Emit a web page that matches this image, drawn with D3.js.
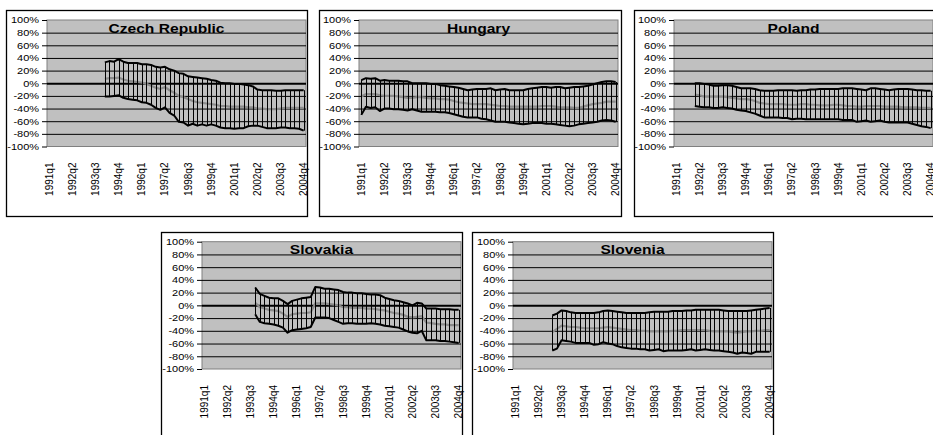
<!DOCTYPE html>
<html><head><meta charset="utf-8">
<script src="https://cdn.jsdelivr.net/npm/d3@7"></script>
<style>
html,body{margin:0;padding:0;background:#fff;overflow:hidden}
text{font-family:Arial,"Liberation Sans",sans-serif;fill:#000}
</style></head>
<body><svg id="c" width="933" height="435"></svg>
<script>
// ---- categories & tick labels ----
const quarters = ["1991q1","1991q2","1991q3","1991q4","1992q1","1992q2","1992q3","1992q4",
"1993q1","1993q2","1993q3","1993q4","1994q1","1994q2","1994q3","1994q4",
"1995q1","1995q2","1995q3","1995q4","1996q1","1996q2","1996q3","1996q4",
"1997q1","1997q2","1997q3","1997q4","1998q1","1998q2","1998q3","1998q4",
"1999q1","1999q2","1999q3","1999q4","2000q1","2000q2","2000q3","2000q4",
"2001q1","2001q2","2001q3","2001q4","2002q1","2002q2","2002q3","2002q4",
"2003q1","2003q2","2003q3","2003q4","2004q1","2004q2","2004q3","2004q4"];
const tickLabels = ["1991q1","1992q2","1993q3","1994q4","1996q1","1997q2","1998q3","1999q4","2001q1","2002q2","2003q3","2004q4"];
const yTicks = [-100,-80,-60,-40,-20,0,20,40,60,80,100];
const gridTicks = [-80,-60,-40,-20,0,20,40,60,80];

// ---- series values (%), null = no data ----
const czechUpper = [null,null,null,null,null,null,null,null,null,null,null,null,
 33,35,34,38,34,32,32,32,30,30,29,26,25,26,22,20,16,15,11,10,9,8,7,5,4,1,0,0,-1,-1,-2,-3,-5,-10,-11,-11,-11,-12,-12,-11,-11,-11,-11,-11];
const czechMid = [null,null,null,null,null,null,null,null,null,null,null,null,
 7,8,8,9,6,4,3,2,1,-1,-4,-7,-9,-6,-11,-15,-20,-22,-25,-28,-30,-31,-32,-33,-34,-36,-36,-37,-37,-37,-37,-38,-38,-40,-40,-41,-41,-41,-40,-39,-39,-39,-39,-39];
const czechLower = [null,null,null,null,null,null,null,null,null,null,null,null,
 -21,-21,-20,-19,-23,-25,-26,-27,-30,-31,-34,-39,-42,-38,-47,-51,-61,-62,-67,-64,-67,-65,-67,-65,-67,-70,-71,-71,-72,-71,-71,-68,-67,-67,-69,-71,-71,-71,-70,-70,-71,-71,-72,-75];

const hungaryUpper = [5,8,7,8,4,5,4,4,4,3,3,0,0,0,0,-1,-1,-3,-4,-5,-6,-7,-9,-11,-10,-9,-9,-9,-8,-11,-10,-9,-11,-11,-11,-11,-9,-8,-7,-6,-6,-7,-6,-6,-8,-7,-6,-6,-5,-4,-2,0,2,3,3,2];
const hungaryMid = [-21,-17,-17,-17,-19,-20,-20,-20,-21,-22,-23,-23,-22,-22,-23,-24,-24,-25,-25,-26,-28,-30,-31,-32,-33,-33,-33,-33,-34,-35,-36,-36,-37,-37,-37,-37,-37,-37,-37,-36,-36,-36,-37,-38,-38,-38,-39,-39,-37,-35,-33,-32,-31,-29,-29,-29];
const hungaryLower = [-50,-37,-39,-38,-44,-40,-40,-41,-41,-42,-43,-41,-43,-45,-45,-45,-45,-46,-46,-47,-49,-51,-53,-54,-54,-54,-56,-57,-59,-61,-61,-61,-62,-63,-64,-65,-64,-63,-63,-63,-64,-64,-65,-66,-67,-68,-67,-65,-64,-63,-62,-61,-59,-58,-59,-61];

const polandUpper = [null,null,null,null,
 0,0,-1,-2,-4,-4,-3,-3,-4,-6,-8,-8,-8,-9,-11,-12,-12,-12,-11,-11,-11,-11,-12,-11,-11,-10,-10,-9,-9,-9,-9,-9,-8,-8,-8,-9,-10,-11,-8,-8,-9,-10,-11,-10,-9,-9,-9,-10,-11,-11,-12,-12];
const polandMid = [null,null,null,null,
 -18,-19,-21,-21,-21,-21,-21,-22,-23,-24,-25,-25,-26,-28,-31,-32,-33,-33,-33,-33,-34,-34,-34,-33,-33,-34,-34,-35,-35,-35,-34,-34,-35,-36,-36,-37,-37,-36,-36,-36,-36,-37,-37,-37,-37,-38,-38,-38,-38,-39,-39,-39];
const polandLower = [null,null,null,null,
 -36,-37,-38,-38,-39,-39,-38,-39,-40,-42,-43,-44,-46,-48,-51,-54,-54,-54,-54,-55,-55,-57,-56,-56,-57,-57,-57,-57,-57,-57,-57,-57,-58,-58,-58,-61,-60,-59,-61,-60,-59,-61,-62,-62,-62,-62,-62,-64,-66,-68,-69,-71];

const slovakiaUpper = [null,null,null,null,null,null,null,null,null,null,null,
 28,18,15,12,11,11,7,2,7,9,11,12,13,29,28,26,26,25,24,21,20,20,19,19,18,17,17,16,12,10,8,7,5,3,0,4,3,-5,-5,-5,-6,-6,-6,-7,-7];
const slovakiaMid = [null,null,null,null,null,null,null,null,null,null,null,
 4,-3,-5,-7,-8,-9,-13,-18,-14,-13,-12,-12,-11,3,3,3,2,1,0,-3,-3,-4,-4,-4,-5,-5,-6,-7,-8,-10,-12,-13,-15,-18,-19,-18,-17,-27,-28,-29,-30,-30,-31,-31,-31];
const slovakiaLower = [null,null,null,null,null,null,null,null,null,null,null,
 -14,-26,-28,-29,-30,-32,-35,-43,-39,-38,-37,-36,-34,-19,-19,-19,-20,-23,-26,-29,-28,-28,-29,-29,-29,-28,-29,-30,-32,-33,-34,-35,-38,-41,-43,-44,-40,-55,-55,-55,-56,-56,-57,-58,-59];

const sloveniaUpper = [null,null,null,null,null,null,null,null,
 -16,-13,-8,-9,-11,-12,-12,-12,-12,-12,-11,-9,-8,-9,-10,-11,-12,-12,-12,-12,-12,-11,-10,-10,-10,-10,-9,-9,-9,-8,-8,-7,-7,-7,-7,-7,-7,-8,-9,-9,-9,-9,-9,-8,-7,-6,-5,-4];
const sloveniaMid = [null,null,null,null,null,null,null,null,
 -42,-37,-32,-33,-34,-34,-35,-36,-36,-36,-36,-35,-34,-35,-36,-37,-38,-39,-39,-40,-40,-41,-41,-41,-41,-41,-40,-40,-39,-39,-39,-39,-39,-39,-40,-41,-41,-41,-41,-42,-43,-42,-41,-41,-40,-40,-39,-39];
const sloveniaLower = [null,null,null,null,null,null,null,null,
 -71,-68,-55,-56,-57,-59,-59,-59,-59,-62,-61,-58,-60,-61,-64,-66,-67,-68,-68,-69,-69,-71,-70,-69,-72,-71,-71,-71,-71,-70,-69,-71,-70,-69,-70,-71,-71,-72,-73,-74,-76,-74,-75,-76,-73,-73,-73,-73];

const countries = ["Czech Republic","Hungary","Poland","Slovakia","Slovenia"];
const uppers = [czechUpper,hungaryUpper,polandUpper,slovakiaUpper,sloveniaUpper];
const mids = [czechMid,hungaryMid,polandMid,slovakiaMid,sloveniaMid];
const lowers = [czechLower,hungaryLower,polandLower,slovakiaLower,sloveniaLower];

// ---- layout ----
const layout = [
  {frame:[6,10,307,216],   plot:[47,20,306,146.5]},
  {frame:[319,10,621,216], plot:[359,20,618,146.5]},
  {frame:[634,10,960,216], plot:[674,20,933,146.5]},
  {frame:[161,232,462,460],plot:[202,241.7,461,369]},
  {frame:[472,232,773,460],plot:[513,241.7,772,369]}
];

const svg = d3.select("#c");
svg.append("rect").attr("width",933).attr("height",435).attr("fill","#fff");

countries.forEach((name, k) => {
  const L = layout[k];
  const [fx0,fy0,fx1,fy1] = L.frame;
  const [px0,py0,px1,py1] = L.plot;
  const g = svg.append("g");

  g.append("rect").attr("x",fx0+0.5).attr("y",fy0+0.5).attr("width",fx1-fx0).attr("height",fy1-fy0)
    .attr("fill","#fff").attr("stroke","#000").attr("stroke-width",1.3);

  const x = d3.scaleBand().domain(quarters).range([px0,px1]);
  const y = d3.scaleLinear().domain([-100,100]).range([py1,py0]);
  const cx = q => x(q) + x.bandwidth()/2;

  g.append("rect").attr("x",px0).attr("y",py0).attr("width",px1-px0).attr("height",py1-py0)
    .attr("fill","#c0c0c0").attr("stroke","#808080").attr("stroke-width",1);

  // gridlines
  const grid = g.append("g").attr("transform",`translate(${px0},0)`)
    .call(d3.axisLeft(y).tickValues(gridTicks).tickSize(-(px1-px0)).tickFormat(""));
  grid.select(".domain").remove();
  grid.selectAll("line").attr("stroke","#000").attr("stroke-width",d=>d===0?2:1);

  // y axis
  const ya = g.append("g").attr("transform",`translate(${px0},0)`)
    .call(d3.axisLeft(y).tickValues(yTicks).tickSize(5).tickPadding(3).tickFormat(d=>d+"%"));
  ya.select(".domain").remove();
  ya.selectAll("line").attr("stroke","#000");
  ya.selectAll("text").attr("font-size",9).attr("font-family","Arial, 'Liberation Sans', sans-serif")
    .attr("transform",function(){const xx=+this.getAttribute("x");return `translate(${xx},0) scale(1.22,1) translate(${-xx},0)`;});

  // x axis labels
  const xa = g.append("g").attr("transform",`translate(0,${py1})`)
    .call(d3.axisBottom(x).tickValues(tickLabels).tickSize(0));
  xa.select(".domain").remove();
  xa.selectAll("text").attr("font-size",10).attr("font-family","Arial, 'Liberation Sans', sans-serif")
    .attr("transform","rotate(-90)").attr("x",-16).attr("y",0).attr("dy","0.35em").attr("text-anchor","end");

  const up = uppers[k], md = mids[k], lo = lowers[k];
  const pts = quarters.map((q,i)=>({q, u:up[i], m:md[i], l:lo[i]}));

  const marks = g.append("g");
  // mid line
  marks.append("path").datum(pts.filter(p=>p.m!=null))
    .attr("fill","none").attr("stroke","#8a8a8a").attr("stroke-width",2.2)
    .attr("d", d3.line().x(p=>cx(p.q)).y(p=>y(p.m)));
  // high-low lines
  marks.selectAll("line.hl").data(pts.filter(p=>p.u!=null && p.l!=null)).enter()
    .append("line").attr("class","hl")
    .attr("x1",p=>Math.round(cx(p.q))+0.5).attr("x2",p=>Math.round(cx(p.q))+0.5)
    .attr("y1",p=>y(p.u)).attr("y2",p=>y(p.l))
    .attr("stroke","#000").attr("stroke-width",1);
  // upper & lower
  ["u","l"].forEach(key=>{
    marks.append("path").datum(pts.filter(p=>p[key]!=null))
      .attr("fill","none").attr("stroke","#000").attr("stroke-width",2).attr("stroke-linejoin","round")
      .attr("d", d3.line().x(p=>cx(p.q)).y(p=>y(p[key])));
  });

  // title
  const tx = (px0+px1)/2 - 10, ty = py0 + 12.5;
  g.append("text").attr("transform",`translate(${tx},${ty}) scale(1.2,1)`)
    .attr("text-anchor","middle").attr("font-size",13).attr("font-weight","bold").text(name);
});
</script></body></html>
